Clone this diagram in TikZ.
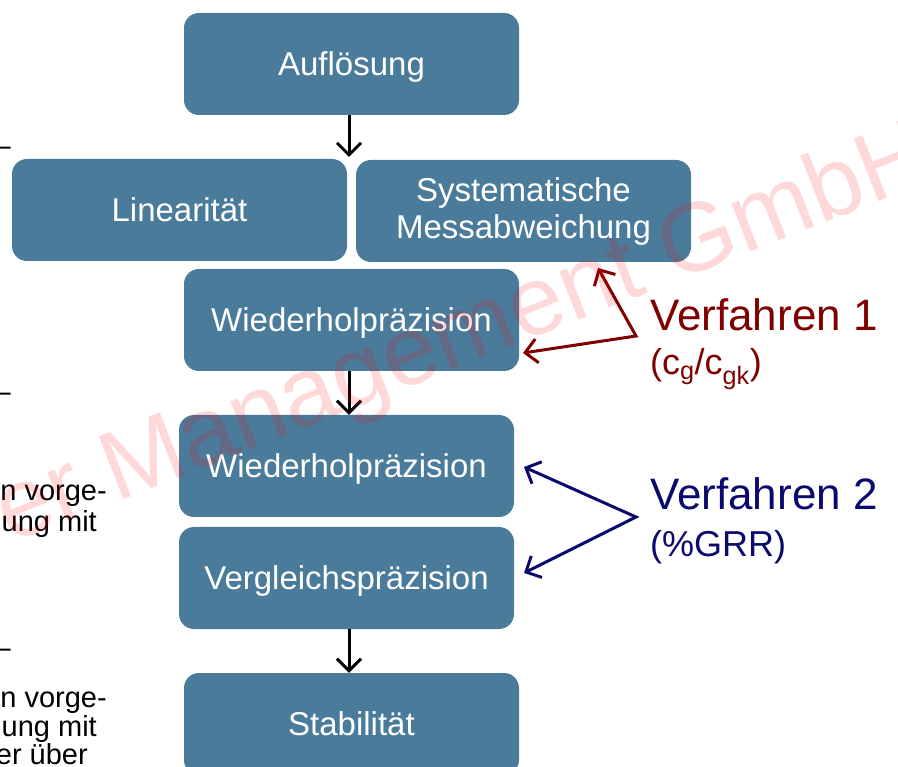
\documentclass[tikz,border=0pt]{standalone}
\usepackage{fontspec}
\setmainfont{Liberation Sans}
\usetikzlibrary{arrows.meta,calc}
\definecolor{boxblue}{RGB}{74,123,155}
\definecolor{vred}{RGB}{128,0,0}
\definecolor{vblue}{RGB}{10,10,110}
\begin{document}
\begin{tikzpicture}[x=1pt,y=-1pt,
  box/.style={draw=none, fill=boxblue, rounded corners=15pt, minimum width=335pt,
    minimum height=102pt, inner sep=0pt, text=white,
    font=\fontsize{33}{37}\selectfont, align=center},
  oneline/.style={box, text height=30pt, text depth=7pt},
  flow/.style={draw=black, line width=3pt, -{Straight Barb[length=12pt,width=24pt]}},
  pointer/.style={line width=3pt, line join=miter,
    {Straight Barb[length=12pt,width=24pt]}-{Straight Barb[length=12pt,width=24pt]}},
  sidetxt/.style={anchor=base east, inner sep=0pt, font=\fontsize{29}{33}\selectfont, text=black},
  vlabel/.style={anchor=base west, inner sep=0pt, font=\fontsize{44}{50}\selectfont},
  vsub/.style={anchor=base west, inner sep=0pt, font=\fontsize{36}{40}\selectfont},
  watermark/.style={anchor=base west, inner sep=0pt, rotate=21.5, text=red,
    opacity=0.15, font=\fontsize{98}{100}\selectfont}
]
\useasboundingbox (0,0) rectangle (898,767);
\clip (0,0) rectangle (898,767);
\fill[white] (0,0) rectangle (898,767);

% boxes
\node[oneline] (a)   at (351.5,64)  {Aufl\"osung};
\node[oneline] (lin) at (179.5,210) {Linearit\"at};
\node[box]     (sys) at (523.5,211) {Systematische\\Messabweichung};
\node[oneline] (w1)  at (351.5,320) {Wiederholpr\"azision};
\node[oneline] (w2)  at (346.5,466) {Wiederholpr\"azision};
\node[oneline] (vg)  at (346.5,578) {Vergleichspr\"azision};
\node[oneline] (st)  at (351.5,724) {Stabilit\"at};

% flow arrows
\coordinate (ax) at (349,0);
\coordinate (j1) at (349,157);
\draw[flow] (a.south -| ax) -- (j1);
\draw[flow] (w1.south -| ax) -- (w2.north -| ax);
\draw[flow] (vg.south -| ax) -- (st.north -| ax);

% Verfahren 1
\coordinate (r0) at (636,336);
\coordinate (r1) at (598,268);
\coordinate (r2) at (523,353);
\draw[pointer, draw=vred] (r1) -- (r0) -- (r2);
\node[vlabel, text=vred] (v1) at (650,331) {Verfahren 1};
\node[vsub, text=vred] (v1s) at (650,375) {(c\textsubscript{g}/c\textsubscript{gk})};

% Verfahren 2
\coordinate (b0) at (636,517);
\coordinate (b1) at (524,467);
\coordinate (b2) at (524,573);
\draw[pointer, draw=vblue] (b1) -- (b0) -- (b2);
\node[vlabel, text=vblue] (v2) at (650,510) {Verfahren 2};
\node[vsub, text=vblue] (v2s) at (650,557) {(\%GRR)};

% cut-off side text
\node[sidetxt] (d1) at (11,156) {--};
\node[sidetxt] (d2) at (11,402) {--};
\node[sidetxt] (t1) at (107,501) {n vorge-};
\node[sidetxt] (t2) at (97,532) {ung mit};
\node[sidetxt] (d3) at (11,657) {--};
\node[sidetxt] (t3) at (107,707) {n vorge-};
\node[sidetxt] (t4) at (97,736) {ung mit};
\node[sidetxt] (t5) at (88,764) {er \"uber};

% watermark
\node[watermark] (wm) at (10,544) {er Management GmbH};
\end{tikzpicture}
\end{document}
